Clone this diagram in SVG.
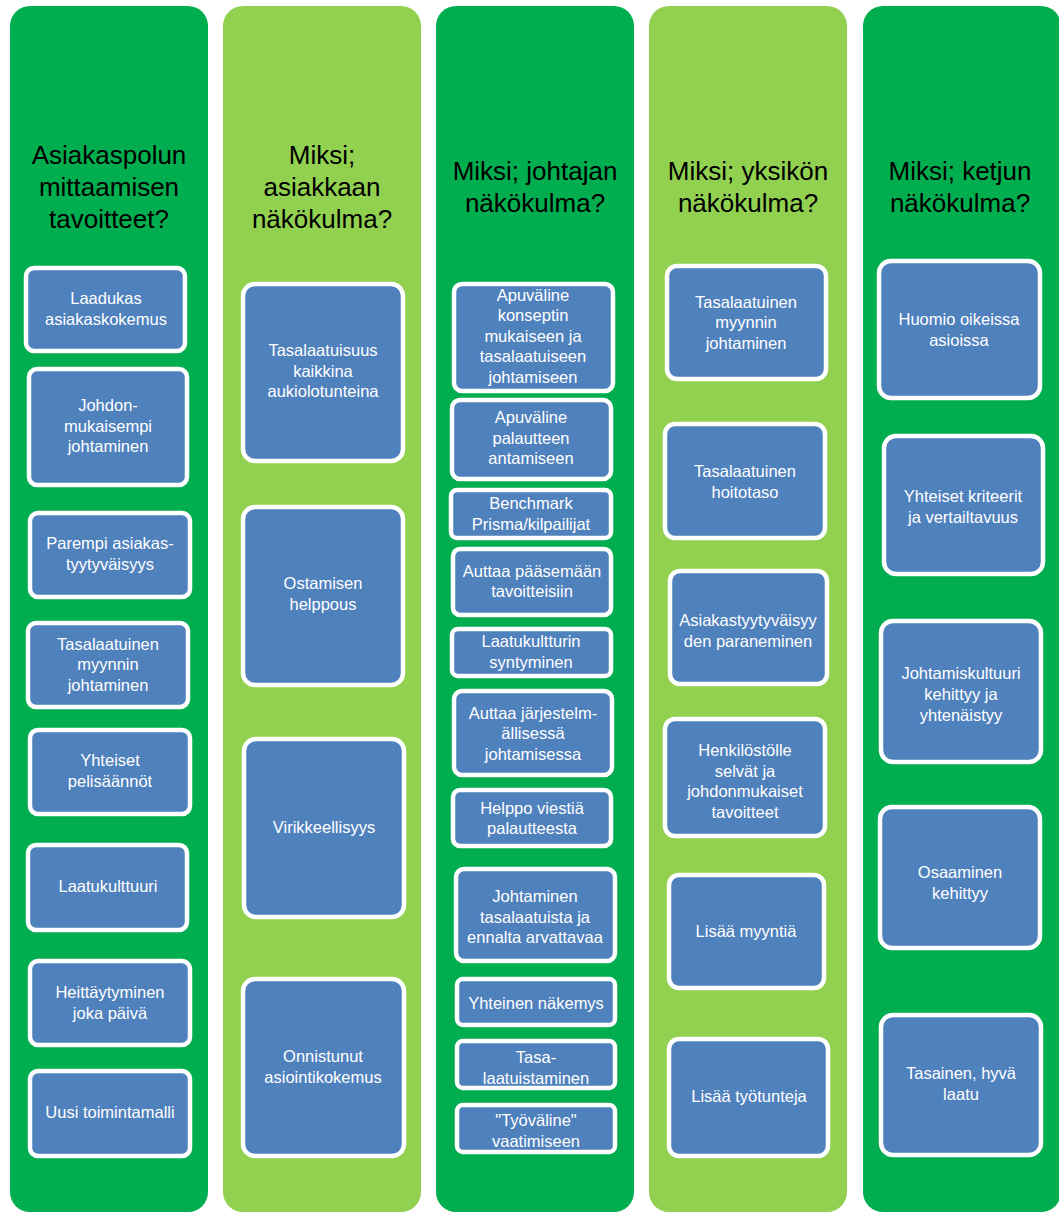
<svg xmlns="http://www.w3.org/2000/svg" width="1059" height="1212" viewBox="0 0 1059 1212">
  <style>
    .col-dark { fill: #00AE4F; }
    .col-light { fill: #92D050; }
    .box { fill: #4F81BD; stroke: #FFFFFF; stroke-width: 4.5; }
    .head { font-family: "Liberation Sans", Arial, sans-serif; font-size: 26px; fill: #000000; text-anchor: middle; }
    .lbl { font-family: "Liberation Sans", Arial, sans-serif; font-size: 16.5px; fill: #FFFFFF; text-anchor: middle; }
  </style>
  <rect width="1059" height="1212" fill="#FFFFFF"/>

  <!-- Column 1: goals of measuring the customer path -->
  <g id="col1">
    <rect class="col-dark" x="10" y="6" width="198" height="1206" rx="20"/>
    <text class="head"><tspan x="109" y="164">Asiakaspolun</tspan><tspan x="109" y="196">mittaamisen</tspan><tspan x="109" y="228">tavoitteet?</tspan></text>
  </g>
  <g id="c1b1"><rect class="box" x="26" y="268" width="159" height="83" rx="8"/>
    <text class="lbl"><tspan x="106" y="304">Laadukas</tspan><tspan x="106" y="325">asiakaskokemus</tspan></text></g>
  <g id="c1b2"><rect class="box" x="29" y="369" width="158" height="116" rx="8"/>
    <text class="lbl"><tspan x="108" y="411">Johdon-</tspan><tspan x="108" y="432">mukaisempi</tspan><tspan x="108" y="452">johtaminen</tspan></text></g>
  <g id="c1b3"><rect class="box" x="30" y="513" width="160" height="84" rx="8"/>
    <text class="lbl"><tspan x="110" y="549">Parempi asiakas-</tspan><tspan x="110" y="570">tyytyväisyys</tspan></text></g>
  <g id="c1b4"><rect class="box" x="28" y="623" width="160" height="84" rx="8"/>
    <text class="lbl"><tspan x="108" y="650">Tasalaatuinen</tspan><tspan x="108" y="670">myynnin</tspan><tspan x="108" y="691">johtaminen</tspan></text></g>
  <g id="c1b5"><rect class="box" x="30" y="730" width="160" height="84" rx="8"/>
    <text class="lbl"><tspan x="110" y="766">Yhteiset</tspan><tspan x="110" y="787">pelisäännöt</tspan></text></g>
  <g id="c1b6"><rect class="box" x="28" y="845" width="159" height="85" rx="8"/>
    <text class="lbl"><tspan x="108" y="892">Laatukulttuuri</tspan></text></g>
  <g id="c1b7"><rect class="box" x="30" y="961" width="160" height="84" rx="8"/>
    <text class="lbl"><tspan x="110" y="998">Heittäytyminen</tspan><tspan x="110" y="1019">joka päivä</tspan></text></g>
  <g id="c1b8"><rect class="box" x="30" y="1071" width="160" height="85" rx="8"/>
    <text class="lbl"><tspan x="110" y="1118">Uusi toimintamalli</tspan></text></g>

  <!-- Column 2: customer's point of view -->
  <g id="col2">
    <rect class="col-light" x="223" y="6" width="198" height="1206" rx="20"/>
    <text class="head"><tspan x="322" y="164">Miksi;</tspan><tspan x="322" y="196">asiakkaan</tspan><tspan x="322" y="228">näkökulma?</tspan></text>
  </g>
  <g id="c2b1"><rect class="box" x="243" y="284" width="160" height="177" rx="12"/>
    <text class="lbl"><tspan x="323" y="356">Tasalaatuisuus</tspan><tspan x="323" y="377">kaikkina</tspan><tspan x="323" y="397">aukiolotunteina</tspan></text></g>
  <g id="c2b2"><rect class="box" x="243" y="507" width="160" height="178" rx="12"/>
    <text class="lbl"><tspan x="323" y="589">Ostamisen</tspan><tspan x="323" y="610">helppous</tspan></text></g>
  <g id="c2b3"><rect class="box" x="244" y="739" width="160" height="178" rx="12"/>
    <text class="lbl"><tspan x="324" y="833">Virikkeellisyys</tspan></text></g>
  <g id="c2b4"><rect class="box" x="243" y="979" width="161" height="177" rx="12"/>
    <text class="lbl"><tspan x="323" y="1062">Onnistunut</tspan><tspan x="323" y="1083">asiointikokemus</tspan></text></g>

  <!-- Column 3: manager's point of view -->
  <g id="col3">
    <rect class="col-dark" x="436" y="6" width="198" height="1206" rx="20"/>
    <text class="head"><tspan x="535" y="180">Miksi; johtajan</tspan><tspan x="535" y="212">näkökulma?</tspan></text>
  </g>
  <g id="c3b1"><rect class="box" x="454" y="284" width="159" height="107" rx="8"/>
    <text class="lbl"><tspan x="533" y="301">Apuväline</tspan><tspan x="533" y="321">konseptin</tspan><tspan x="533" y="342">mukaiseen ja</tspan><tspan x="533" y="362">tasalaatuiseen</tspan><tspan x="533" y="383">johtamiseen</tspan></text></g>
  <g id="c3b2"><rect class="box" x="452" y="400" width="159" height="79" rx="8"/>
    <text class="lbl"><tspan x="531" y="423">Apuväline</tspan><tspan x="531" y="444">palautteen</tspan><tspan x="531" y="464">antamiseen</tspan></text></g>
  <g id="c3b3"><rect class="box" x="451" y="490" width="160" height="48" rx="6"/>
    <text class="lbl"><tspan x="531" y="509">Benchmark</tspan><tspan x="531" y="530">Prisma/kilpailijat</tspan></text></g>
  <g id="c3b4"><rect class="box" x="453" y="549" width="158" height="66" rx="7"/>
    <text class="lbl"><tspan x="532" y="577">Auttaa pääsemään</tspan><tspan x="532" y="597">tavoitteisiin</tspan></text></g>
  <g id="c3b5"><rect class="box" x="452" y="629" width="159" height="47" rx="6"/>
    <text class="lbl"><tspan x="531" y="647">Laatukultturin</tspan><tspan x="531" y="668">syntyminen</tspan></text></g>
  <g id="c3b6"><rect class="box" x="454" y="691" width="158" height="84" rx="8"/>
    <text class="lbl"><tspan x="533" y="719">Auttaa järjestelm-</tspan><tspan x="533" y="739">ällisessä</tspan><tspan x="533" y="760">johtamisessa</tspan></text></g>
  <g id="c3b7"><rect class="box" x="453" y="790" width="158" height="56" rx="7"/>
    <text class="lbl"><tspan x="532" y="814">Helppo viestiä</tspan><tspan x="532" y="834">palautteesta</tspan></text></g>
  <g id="c3b8"><rect class="box" x="456" y="869" width="159" height="92" rx="8"/>
    <text class="lbl"><tspan x="535" y="902">Johtaminen</tspan><tspan x="535" y="923">tasalaatuista ja</tspan><tspan x="535" y="943">ennalta arvattavaa</tspan></text></g>
  <g id="c3b9"><rect class="box" x="457" y="979" width="158" height="46" rx="6"/>
    <text class="lbl"><tspan x="536" y="1009">Yhteinen näkemys</tspan></text></g>
  <g id="c3b10"><rect class="box" x="457" y="1041" width="158" height="47" rx="6"/>
    <text class="lbl"><tspan x="536" y="1063">Tasa-</tspan><tspan x="536" y="1084">laatuistaminen</tspan></text></g>
  <g id="c3b11"><rect class="box" x="457" y="1105" width="158" height="47" rx="6"/>
    <text class="lbl"><tspan x="536" y="1126">"Työväline"</tspan><tspan x="536" y="1147">vaatimiseen</tspan></text></g>

  <!-- Column 4: unit's point of view -->
  <g id="col4">
    <rect class="col-light" x="649" y="6" width="198" height="1206" rx="20"/>
    <text class="head"><tspan x="748" y="180">Miksi; yksikön</tspan><tspan x="748" y="212">näkökulma?</tspan></text>
  </g>
  <g id="c4b1"><rect class="box" x="667" y="266" width="159" height="113" rx="10"/>
    <text class="lbl"><tspan x="746" y="308">Tasalaatuinen</tspan><tspan x="746" y="328">myynnin</tspan><tspan x="746" y="349">johtaminen</tspan></text></g>
  <g id="c4b2"><rect class="box" x="665" y="424" width="160" height="114" rx="10"/>
    <text class="lbl"><tspan x="745" y="477">Tasalaatuinen</tspan><tspan x="745" y="498">hoitotaso</tspan></text></g>
  <g id="c4b3"><rect class="box" x="670" y="571" width="157" height="113" rx="10"/>
    <text class="lbl"><tspan x="748" y="626">Asiakastyytyväisyy</tspan><tspan x="748" y="647">den paraneminen</tspan></text></g>
  <g id="c4b4"><rect class="box" x="665" y="719" width="160" height="117" rx="10"/>
    <text class="lbl"><tspan x="745" y="756">Henkilöstölle</tspan><tspan x="745" y="777">selvät ja</tspan><tspan x="745" y="797">johdonmukaiset</tspan><tspan x="745" y="818">tavoitteet</tspan></text></g>
  <g id="c4b5"><rect class="box" x="669" y="875" width="155" height="113" rx="10"/>
    <text class="lbl"><tspan x="746" y="937">Lisää myyntiä</tspan></text></g>
  <g id="c4b6"><rect class="box" x="669" y="1039" width="159" height="117" rx="10"/>
    <text class="lbl"><tspan x="749" y="1102">Lisää työtunteja</tspan></text></g>

  <!-- Column 5: chain's point of view -->
  <g id="col5">
    <rect class="col-dark" x="863" y="6" width="198" height="1206" rx="20"/>
    <text class="head"><tspan x="960" y="180">Miksi; ketjun</tspan><tspan x="960" y="212">näkökulma?</tspan></text>
  </g>
  <g id="c5b1"><rect class="box" x="879" y="261" width="161" height="137" rx="12"/>
    <text class="lbl"><tspan x="959" y="325">Huomio oikeissa</tspan><tspan x="959" y="346">asioissa</tspan></text></g>
  <g id="c5b2"><rect class="box" x="884" y="436" width="159" height="138" rx="12"/>
    <text class="lbl"><tspan x="963" y="502">Yhteiset kriteerit</tspan><tspan x="963" y="523">ja vertailtavuus</tspan></text></g>
  <g id="c5b3"><rect class="box" x="881" y="621" width="160" height="141" rx="12"/>
    <text class="lbl"><tspan x="961" y="679">Johtamiskultuuri</tspan><tspan x="961" y="700">kehittyy ja</tspan><tspan x="961" y="721">yhtenäistyy</tspan></text></g>
  <g id="c5b4"><rect class="box" x="880" y="807" width="160" height="141" rx="12"/>
    <text class="lbl"><tspan x="960" y="878">Osaaminen</tspan><tspan x="960" y="899">kehittyy</tspan></text></g>
  <g id="c5b5"><rect class="box" x="881" y="1015" width="160" height="140" rx="12"/>
    <text class="lbl"><tspan x="961" y="1079">Tasainen, hyvä</tspan><tspan x="961" y="1100">laatu</tspan></text></g>
</svg>
